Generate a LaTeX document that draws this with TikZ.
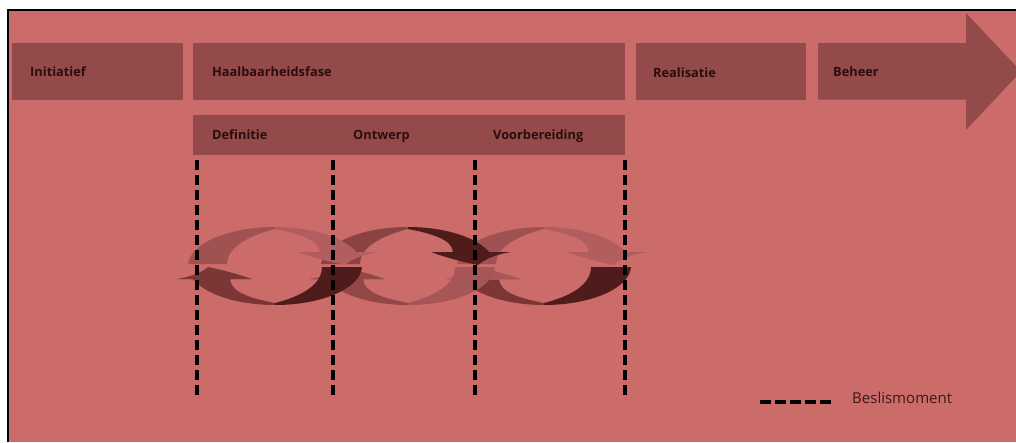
\documentclass[tikz,border=0pt]{standalone}
\usepackage{fontspec}
\setmainfont{Open Sans}
\usetikzlibrary{calc}

\definecolor{bgred}{HTML}{CB6B6A}
\definecolor{phase}{HTML}{944A4A}
\definecolor{ink}{HTML}{2A0D0D}
\definecolor{legendink}{HTML}{3B1919}
\definecolor{lobeA}{HTML}{A05252}
\definecolor{lobeB}{HTML}{B25E5E}
\definecolor{lobeC}{HTML}{7D3636}
\definecolor{lobeD}{HTML}{4F1B1B}
\definecolor{lobeE}{HTML}{8A4242}
\definecolor{lobeF}{HTML}{934747}
\definecolor{lobeG}{HTML}{A65656}
\definecolor{lobeH}{HTML}{A85858}

\tikzset{
  phasebox/.style={fill=phase, draw=none, anchor=north west, inner sep=0pt},
  phaselabel/.style={anchor=base west, inner sep=0pt, text=ink,
    font=\fontsize{12.8}{15}\selectfont\bfseries},
  decision/.style={draw=black, line width=4pt, dash pattern=on 10pt off 5pt},
  legenddash/.style={draw=black, line width=4pt, dash pattern=on 11pt off 4pt},
  % upper arrow of one ring: tail at the left, head at the right
  upperarrow/.style={insert path={
    (182.9:87 and 39) arc[start angle=182.9, end angle=339, x radius=87, y radius=39]
    -- (103,-14) .. controls (85,-11) and (76,-6) .. (70,-1)
    .. controls (55,-4) and (36,-9) .. (23,-14)
    -- (45,-14) .. controls (44,-26) and (26,-32) .. (0,-37)
    .. controls (-28,-30) and (-48,-18) .. (-48,-2) -- cycle}},
  % lower arrow of one ring: tail at the right, head at the left
  lowerarrow/.style={insert path={
    (1.5:87 and 39) arc[start angle=1.5, end angle=160.5, x radius=87, y radius=39]
    -- (-98,13) .. controls (-80,10) and (-72,5) .. (-67,1)
    .. controls (-52,4) and (-34,9) .. (-23,13)
    -- (-45,13) .. controls (-44,26) and (-26,32) .. (0,37)
    .. controls (28,30) and (47,18) .. (47,1) -- cycle}}
}

% one ring of two curved arrows
% #1,#2 centre; #3/#4 upper arrow left/right; #5/#6 lower arrow left/right; #7 lower head
\newcommand\chainring[7]{%
  \begin{scope}[shift={(#1,#2)}]
    \begin{scope}\clip (-130,-60) rectangle (0,60);
      \path[fill=#3, upperarrow];\end{scope}
    \begin{scope}\clip (0,-60) rectangle (130,60);
      \path[fill=#4, upperarrow];\end{scope}
    \begin{scope}\clip (-130,13) rectangle (0,60);
      \path[fill=#5, lowerarrow];\end{scope}
    \begin{scope}\clip (-130,-60) rectangle (0,13);
      \path[fill=#7, lowerarrow];\end{scope}
    \begin{scope}\clip (0,-60) rectangle (130,60);
      \path[fill=#6, lowerarrow];\end{scope}
  \end{scope}}

\begin{document}
\begin{tikzpicture}[x=1pt, y=-1pt]
  \useasboundingbox (0,0) rectangle (1016,442);
  \fill[white] (0,0) rectangle (1016,442);
  \fill[bgred] (8,10) rectangle (1016,442);
  \draw[black, line width=1.5pt] (8,442) -- (8,10) -- (1016,10);

  % phase bars
  \node[phasebox, minimum width=171pt, minimum height=57pt] (initbox) at (12,43) {};
  \node[phasebox, minimum width=432pt, minimum height=57pt] (haalbox) at (193,43) {};
  \node[phasebox, minimum width=432pt, minimum height=40pt] (subbox) at (193,115) {};
  \node[phasebox, minimum width=170pt, minimum height=57pt] (realbox) at (636,43) {};
  \fill[phase] (818,43) -- (966,43) -- (966,13) -- (1021,71.5) -- (966,130)
    -- (966,99.5) -- (818,99.5) -- cycle;

  \node[phaselabel] (initiatief) at (30,76) {Initiatief};
  \node[phaselabel] (haalbaar) at (212,76) {Haalbaarheidsfase};
  \node[phaselabel] (realisatie) at (653,77) {Realisatie};
  \node[phaselabel] (beheer) at (833,76) {Beheer};
  \node[phaselabel] (definitie) at (212,139) {Definitie};
  \node[phaselabel] (ontwerp) at (353,139) {Ontwerp};
  \node[phaselabel] (voorbereiding) at (493,139) {Voorbereiding};

  % decision moments
  \coordinate (m1t) at (196.5,160); \coordinate (m1b) at (196.5,398);
  \coordinate (m2t) at (333,160);   \coordinate (m2b) at (333,398);
  \coordinate (m3t) at (475,160);   \coordinate (m3b) at (475,398);
  \coordinate (m4t) at (624.5,160); \coordinate (m4b) at (624.5,398);

  % linked cycle arrows
  \chainring{544}{266}{lobeA}{lobeB}{lobeC}{lobeD}{lobeH}
  \chainring{408}{266}{lobeE}{lobeD}{lobeF}{lobeG}{lobeF}
  \chainring{275}{266}{lobeA}{lobeB}{lobeC}{lobeD}{lobeC}

  \draw[decision] (m1t) -- (m1b);
  \draw[decision] (m2t) -- (m2b);
  \draw[decision] (m3t) -- (m3b);
  \draw[decision] (m4t) -- (m4b);

  % legend
  \coordinate (lg1) at (760,402);
  \coordinate (lg2) at (831,402);
  \draw[legenddash] (lg1) -- (lg2);
  \node[anchor=base west, inner sep=0pt, text=legendink,
    font=\fontsize{15}{18}\selectfont] (legendtext) at (852,403) {Beslismoment};
\end{tikzpicture}
\end{document}
